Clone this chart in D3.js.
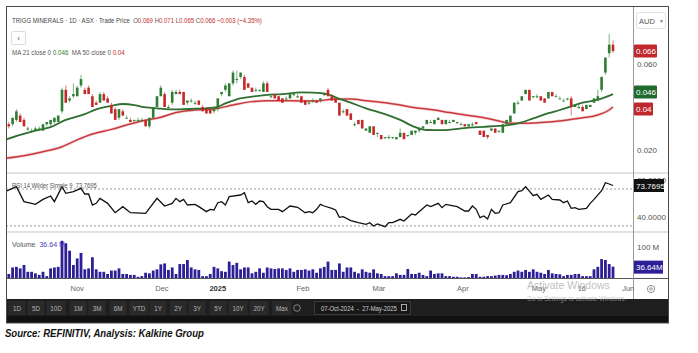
<!DOCTYPE html>
<html>
<head>
<meta charset="utf-8">
<script src="https://cdn.jsdelivr.net/npm/d3@7"></script>
<style>
  body { margin: 0; background: #fff; }
  svg { display: block; font-family: "Liberation Sans", Arial, sans-serif; }
  text { white-space: pre; }
</style>
</head>
<body>
<svg id="chart" width="698" height="353"></svg>
<script>
// ---- data (prices in thousandths of AUD, volume in millions) ----
const candles = [
  [30,31,29,31],[32,33,30,31],[32,35,31,35],[34,39,33,38],[36,37,33,33],[34,35,31,31],[30,31,29,30],[29,30,28,29],[29,31,29,30],[30,31,29,30],
  [29,32,29,32],[32,33,31,33],[32,34,31,34],[33,35,32,35],[33,36,33,36],[38,49,37,48],[48,50,42,42],[43,45,42,44],[45,51,44,46],[45,50,45,49],
  [50,55,49,53],[48,49,46,46],[49,50,46,46],[45,46,40,40],[42,43,41,41],[42,47,42,46],[46,47,43,43],[44,45,42,42],[41,42,37,37],[39,40,34,34],
  [35,39,34,39],[38,39,36,36],[35,36,35,35],[34,35,33,33],[34,34,33,34],[34,35,33,34],[34,35,33,34],[34,34,31,31],[31,35,30,35],[35,40,35,40],
  [40,45,40,45],[45,50,45,49],[46,47,40,40],[40,41,39,40],[42,48,41,47],[46,48,46,47],[47,48,46,46],[47,47,41,41],[42,43,41,43],[43,44,42,43],
  [42,43,41,42],[43,43,41,41],[40,41,38,38],[39,40,37,37],[39,39,37,37],[38,39,37,39],[39,44,38,44],[46,47,45,47],[48,51,47,50],[45,51,45,51],
  [51,57,50,56],[53,57,51,53],[54,56,53,56],[54,55,48,48],[51,51,49,49],[49,49,47,47],[48,49,47,48],[48,48,47,48],[47,52,47,51],[51,52,47,47],
  [45,46,44,45],[46,46,44,44],[45,45,43,43],[44,44,42,42],[44,45,43,44],[44,46,44,46],[46,47,45,46],[45,46,44,45],[45,45,42,42],[43,43,41,41],
  [42,43,41,42],[43,44,42,43],[43,43,42,42],[43,44,42,44],[46,47,45,46],[48,49,45,45],[45,46,43,43],[44,44,42,42],[42,42,36,36],[38,39,37,38],
  [39,39,36,36],[37,37,34,34],[32,33,31,32],[34,34,32,32],[34,34,30,30],[29,30,29,30],[28,31,28,31],[31,31,27,27],[28,28,26,28],[27,27,25,25],
  [26,26,25,26],[26,27,25,26],[26,26,25,26],[25,26,25,26],[26,30,26,28],[28,28,25,25],[27,27,26,27],[27,29,27,29],[28,29,27,29],[29,30,28,30],
  [30,31,30,31],[32,34,32,34],[33,34,33,33],[32,34,32,34],[34,35,34,35],[34,34,32,32],[32,34,32,34],[33,34,33,33],[33,34,33,34],[33,33,32,33],
  [32,33,32,32],[32,32,31,31],[31,32,31,32],[32,33,31,32],[33,33,32,32],[29,29,27,27],[29,29,26,26],[27,27,25,26],[29,30,29,30],[30,30,28,28],
  [29,29,28,29],[28,32,28,32],[32,34,32,34],[33,36,33,36],[37,42,37,42],[42,43,41,42],[43,45,43,45],[46,48,46,48],[48,48,43,43],[45,45,44,45],
  [45,46,44,45],[45,45,43,43],[44,44,42,42],[44,47,44,47],[47,47,45,45],[45,46,45,45],[44,45,44,44],[43,44,43,43],[44,44,43,44],[44,45,36,40],
  [40,41,40,41],[40,41,39,40],[40,41,38,38],[39,41,39,41],[40,41,40,41],[42,44,42,44],[43,48,43,45],[48,54,47,54],[56,63,55,63],[65,74,63,69],
  [69,71,65,66]
];

const volumes = [
  12,13,34,36,31,42,20,20,15,10, 20,6,31,34,36,120,112,88,42,63,
  81,28,31,67,28,20,20,13,24,24, 31,13,13,10,10,4,6,17,15,24,
  28,44,47,26,34,13,45,45,58,34, 28,26,6,6,13,36,31,22,20,53,
  42,49,28,34,34,15,20,31,17,34, 31,29,31,31,26,31,20,26,26,28,
  24,28,17,31,36,53,26,26,47,20, 34,
  34,20,15,28,20,17,28,15,13,6, 6,6,15,10,10,29,13,13,17,10,
  6,24,13,15,15,6,6,4,4,2, 2,3,13,13,4,4,6,6,8,10,
  10,9,13,20,24,20,26,20,28,20, 17,13,26,15,13,12,6,10,10,13,
  13,6,6,6,28,36,61,58,45,36.64
];

// [trading day, value]
const ma21 = [
  [0,.0247],[4,.0270],[8,.0290],[12,.0306],[16,.0340],[21,.0367],[24,.0389],[28,.0405],[31,.0414],[34,.0409],
  [36,.0401],[40,.0394],[43,.0389],[46,.0389],[50,.0392],[53,.0394],[56,.0401],[58,.0417],[61,.0436],[65,.0448],
  [69,.0456],[73,.0460],[78,.0468],[81,.0467],[85,.0459],[87,.0445],[91,.0420],[95,.0394],[100,.0367],[104,.0340],
  [108,.0306],[111,.0293],[115,.0292],[122,.0304],[126,.0308],[130,.0312],[132,.0315],[135,.0324],[139,.0347],[143,.0371],
  [146,.0386],[148,.0397],[152,.0420],[156,.0434],[160,.0460]
];
const ma50 = [
  [0,.0161],[6,.0177],[10,.0192],[15,.0215],[19,.0247],[23,.0274],[28,.0296],[32,.0316],[36,.0335],[41,.0352],
  [45,.0374],[50,.0386],[55,.0391],[60,.0409],[65,.0425],[69,.0429],[73,.0429],[78,.0428],[82,.0428],[86,.0436],
  [91,.0437],[95,.0429],[100,.0420],[104,.0409],[108,.0397],[113,.0386],[117,.0374],[122,.0361],[126,.0350],[130,.0335],
  [133,.0324],[136,.0324],[143,.0330],[148,.0340],[152,.0350],[156,.0363],[159,.0386],[160,.0400]
];
const rsi = [
  [0,67],[3,72.5],[5,56.3],[7,54.5],[8,53.4],[10,58.8],[12,62.4],[13,56.3],[15,72.5],[16,65.3],
  [18,67.1],[20,70.7],[21,64.6],[22,64.6],[23,52.7],[24,54.5],[25,59.9],[27,54.5],[29,44.4],[31,50.9],
  [33,44.4],[37,43.7],[40,59.9],[42,51.6],[44,54.5],[45,59.9],[46,56.3],[47,58.8],[48,52.7],[50,53.4],
  [51,50.9],[53,45.5],[54,48],[55,47.3],[56,55.2],[57,56.3],[58,52.7],[59,61.7],[62,63.5],[63,66],
  [64,55.2],[65,57],[66,53.4],[67,57],[68,56.3],[69,50.9],[70,48],[72,48],[73,45.5],[75,51.6],
  [77,50.2],[79,44.4],[80,45.5],[81,44.4],[82,48],[83,53.4],[84,51.6],[86,49.1],[87,47.3],[88,39.4],
  [89,40.1],[91,35.8],[93,33.6],[95,31.8],[96,33.6],[97,30],[98,32.2],[100,29.3],[101,33.6],[102,33.6],
  [104,37.2],[105,35.4],[107,43],[108,41.9],[111,52.7],[112,50.9],[114,54.5],[115,49.8],[116,53.4],[119,50.9],
  [121,46.2],[122,46.2],[123,51.6],[124,48],[125,39],[126,40.8],[127,37.6],[128,48],[129,43.7],[130,44.4],
  [131,52.7],[133,55.2],[135,67.1],[136,68.2],[137,72.5],[139,62.8],[140,64.2],[141,58.8],[143,63.5],[144,58.8],
  [146,58.1],[147,55.2],[148,57],[149,49.1],[150,49.8],[151,48],[153,49.1],[154,54.5],[155,58.8],[157,68.2],
  [158,76.8],[159,75.4],[160,73.7695]
];

const dateTicks = [
  { day: 19, label: "Nov" }, { day: 41.3, label: "Dec" }, { day: 56, label: "2025", bold: true },
  { day: 78.4, label: "Feb" }, { day: 98.4, label: "Mar" }, { day: 120.5, label: "Apr" },
  { day: 140.5, label: "May" }, { day: 151.8, label: "16" }, { day: 164, label: "Jun" }
];
const priceTicks = [0.02, 0.04, 0.06];
const rsiTicks = [40, 80];
const volTicks = [100];
const rangeButtons = ["1D","5D","10D","1M","3M","6M","YTD","1Y","2Y","3Y","5Y","10Y","20Y","Max"];
const buttonCentres = [17,36,56,78,97,118,139,158,178,197,218,238,259,282];

const ma21Last = 0.046, ma50Last = 0.04, rsiLast = 73.7695;

// ---- layout ----
const L = 6, R = 633, FR = 668;
const mainTop = 7, mainBot = 173, rsiBot = 232, volBot = 278, axisBot = 299, barBot = 323;
const UP = "#2e7d32", DOWN = "#c62828", VOL = "#2d1f96";

const svg = d3.select("#chart");
const x = d3.scaleLinear().domain([0, 160]).range([5, 613]);
const yP = d3.scaleLinear().domain([0.0093, 0.08698]).range([mainBot, 6]);
const yR = d3.scaleLinear().domain([23.5, 87.3]).range([rsiBot, mainBot]);
const yV = d3.scaleLinear().domain([0, 100]).range([volBot, 247]);

// squeeze a text element horizontally to a target width (condensed UI font look)
function squeeze(t, tx, ty, width) {
  const w = t.node().getComputedTextLength();
  t.attr("transform", `translate(${tx},${ty}) scale(${width / w},1)`);
}

const defs = svg.append("defs");
[["clipMain", mainTop, mainBot], ["clipRsi", mainBot, rsiBot], ["clipVol", rsiBot, volBot]].forEach(([id, t, b]) => {
  defs.append("clipPath").attr("id", id).append("rect")
    .attr("x", L).attr("y", t).attr("width", R - L).attr("height", b - t);
});

// ---- main panel: candles + moving averages ----
const gMain = svg.append("g").attr("clip-path", "url(#clipMain)");
const line = d3.line().x(d => x(d[0])).y(d => yP(d[1])).curve(d3.curveMonotoneX);

gMain.append("path").datum(ma50).attr("d", line)
  .attr("fill", "none").attr("stroke", "#f6d6d6").attr("stroke-width", 3);
gMain.append("path").datum(ma50).attr("d", line)
  .attr("fill", "none").attr("stroke", "#c9383d").attr("stroke-width", 1.5);
gMain.append("path").datum(ma21).attr("d", line)
  .attr("fill", "none").attr("stroke", "#2f6f2f").attr("stroke-width", 1.8);

const cg = gMain.selectAll(".candle").data(candles).enter().append("g").attr("class", "candle");
const col = d => (d[3] >= d[0] ? UP : DOWN);
cg.append("line")
  .attr("x1", (d, i) => x(i)).attr("x2", (d, i) => x(i))
  .attr("y1", d => yP(d[1] / 1000)).attr("y2", d => yP(d[2] / 1000))
  .attr("stroke", col).attr("stroke-opacity", 0.6).attr("stroke-width", 1);
cg.append("rect")
  .attr("x", (d, i) => x(i) - 1.3).attr("width", 2.6)
  .attr("y", d => yP(Math.max(d[0], d[3]) / 1000))
  .attr("height", d => Math.max(1, yP(Math.min(d[0], d[3]) / 1000) - yP(Math.max(d[0], d[3]) / 1000)))
  .attr("fill", col);

// ---- RSI panel ----
const gRsi = svg.append("g").attr("clip-path", "url(#clipRsi)");
[70, 30].forEach(v => {
  gRsi.append("line").attr("x1", L).attr("x2", R).attr("y1", yR(v)).attr("y2", yR(v))
    .attr("stroke", "#9a9a9a").attr("stroke-dasharray", "2,2");
});
gRsi.append("path").datum(rsi)
  .attr("d", d3.line().x(d => x(d[0])).y(d => yR(d[1])))
  .attr("fill", "none").attr("stroke", "#111").attr("stroke-width", 1.3);

// ---- volume panel ----
const gVol = svg.append("g").attr("clip-path", "url(#clipVol)");
gVol.selectAll("rect").data(volumes).enter().append("rect")
  .attr("x", (d, i) => x(i) - 1.4).attr("width", 2.8)
  .attr("y", d => yV(d)).attr("height", d => volBot - yV(d))
  .attr("fill", VOL);

// ---- frame, separators ----
[mainBot, rsiBot].forEach(y => {
  svg.append("line").attr("x1", L).attr("x2", FR).attr("y1", y).attr("y2", y)
    .attr("stroke", "#e2e2e2").attr("stroke-width", 2);
});
svg.append("line").attr("x1", L).attr("x2", FR).attr("y1", volBot + 0.5).attr("y2", volBot + 0.5)
  .attr("stroke", "#555");
svg.append("line").attr("x1", R + 0.5).attr("x2", R + 0.5).attr("y1", mainTop).attr("y2", axisBot)
  .attr("stroke", "#9a9a9a");

// ---- right axes ----
const last = candles[candles.length - 1];
const prev = candles[candles.length - 2];
let y21 = yP(ma21Last), y50 = yP(ma50Last);
if (y50 - y21 < 17) { const m = (y21 + y50) / 2; y21 = m - 8.5; y50 = m + 8.5; }
const tagYs = [yP(last[3] / 1000), y21, y50];

const axisText = (y, label) => svg.append("text").attr("x", 637).attr("y", y + 3)
  .attr("font-size", 8).attr("fill", "#555").text(label);
// price ticks hidden behind a value tag are not drawn
priceTicks.filter(v => tagYs.every(t => Math.abs(t - yP(v)) > 8))
  .forEach(v => axisText(yP(v), d3.format(".3f")(v)));
rsiTicks.forEach(v => axisText(yR(v), d3.format(".4f")(v)));
volTicks.forEach(v => axisText(yV(v), v + " M"));

function tag(yc, label, fill, w) {
  svg.append("rect").attr("x", 634).attr("y", yc - 6.5).attr("width", w).attr("height", 13)
    .attr("rx", 1).attr("fill", fill);
  svg.append("text").attr("x", 636).attr("y", yc + 3).attr("font-size", 8)
    .attr("fill", "#fff").text(label);
}
tag(tagYs[0], d3.format(".3f")(last[3] / 1000), "#c0282d", 23);
tag(tagYs[1], String(ma21Last), "#1f6a2c", 23);
tag(tagYs[2], String(ma50Last), "#c0282d", 19);
svg.append("rect").attr("x", 634).attr("y", yR(rsiLast) - 6.5).attr("width", 30).attr("height", 13).attr("fill", "#111");
svg.append("text").attr("x", 636).attr("y", yR(rsiLast) + 3).attr("font-size", 8).attr("fill", "#fff").text(rsiLast.toFixed(4));
svg.append("rect").attr("x", 634).attr("y", yV(volumes[volumes.length - 1]) - 6).attr("width", 29).attr("height", 13).attr("fill", VOL);
svg.append("text").attr("x", 636).attr("y", yV(volumes[volumes.length - 1]) + 3.5).attr("font-size", 8).attr("fill", "#fff")
  .text(volumes[volumes.length - 1] + "M");

// AUD selector
svg.append("rect").attr("x", 636.5).attr("y", 12.5).attr("width", 29).attr("height", 16).attr("rx", 2)
  .attr("fill", "#fff").attr("stroke", "#e0e0e0");
svg.append("text").attr("x", 639).attr("y", 23.5).attr("font-size", 7.5).attr("fill", "#555").text("AUD");
svg.append("text").attr("x", 659).attr("y", 23).attr("font-size", 5).attr("fill", "#777").text("▼");

// ---- date axis ----
dateTicks.forEach(t => {
  svg.append("text").attr("x", x(t.day)).attr("y", 291).attr("text-anchor", "middle")
    .attr("font-size", 7.5).attr("font-weight", t.bold ? "bold" : "normal")
    .attr("fill", t.bold ? "#333" : "#666").text(t.label);
});
svg.append("circle").attr("cx", 651).attr("cy", 289).attr("r", 3.6).attr("fill", "none").attr("stroke", "#777").attr("stroke-width", 0.8);
svg.append("circle").attr("cx", 651).attr("cy", 289).attr("r", 1.3).attr("fill", "none").attr("stroke", "#777").attr("stroke-width", 0.7);

// ---- legends ----
const fmt = v => d3.format(".3f")(v / 1000);
const chg = last[3] - prev[3];
const head = svg.append("text").attr("font-size", 8);
[
  ["TRIGG MINERALS · 1D · ASX · Trade Price  ", "#444"],
  ["O", "#555"], [fmt(last[0]) + " ", "#c62828"],
  ["H", "#555"], [fmt(last[1]) + " ", "#c62828"],
  ["L", "#555"], [fmt(last[2]) + " ", "#c62828"],
  ["C", "#555"], [fmt(last[3]) + " ", "#c62828"],
  [fmt(chg) + " (" + d3.format("+.2f")(chg / prev[3] * 100).replace("-", "−") + "%)", "#c62828"]
].forEach(([s, c]) => head.append("tspan").attr("fill", c).text(s));
squeeze(head, 12, 22.5, 250);

svg.append("rect").attr("x", 11.5).attr("y", 31.5).attr("width", 14).attr("height", 13).attr("rx", 1.5)
  .attr("fill", "#fff").attr("stroke", "#dcdcdc");
svg.append("text").attr("x", 18.5).attr("y", 41).attr("text-anchor", "middle").attr("font-size", 8).attr("fill", "#444").text("‹");

const maLeg = svg.append("text").attr("font-size", 8);
[["MA 21 close 0 ", "#555"], [String(ma21Last), "#2e7d32"], ["  MA 50 close 0 ", "#555"], [String(ma50Last), "#c62828"]]
  .forEach(([s, c]) => maLeg.append("tspan").attr("fill", c).text(s));
squeeze(maLeg, 12, 55, 113);

const rsiLeg = svg.append("text").attr("font-size", 8).attr("fill", "#555").text("RSI 14 Wilder Simple 9  " + rsiLast);
squeeze(rsiLeg, 12, 187.5, 85);

const volLeg = svg.append("text").attr("font-size", 8);
volLeg.append("tspan").attr("fill", "#555").text("Volume  ");
volLeg.append("tspan").attr("fill", "#4b3fc0").text(volumes[volumes.length - 1] + " M");
squeeze(volLeg, 12, 247, 53);

// ---- toolbar ----
svg.append("rect").attr("x", L).attr("y", axisBot).attr("width", 663).attr("height", barBot - axisBot).attr("fill", "#1e1e1e");
svg.append("rect").attr("x", L).attr("y", 316).attr("width", 663).attr("height", barBot - 316).attr("fill", "#111");
rangeButtons.forEach((b, i) => {
  const w = b.length > 2 ? 19 : 17;
  svg.append("rect").attr("x", buttonCentres[i] - w / 2).attr("y", 301).attr("width", w).attr("height", 14)
    .attr("fill", "#2a2a2a");
  svg.append("text").attr("x", buttonCentres[i]).attr("y", 310.5).attr("text-anchor", "middle")
    .attr("font-size", 6.3).attr("fill", "#b5b5b5").text(b);
});
svg.append("circle").attr("cx", 297).attr("cy", 308).attr("r", 3.3).attr("fill", "none").attr("stroke", "#999").attr("stroke-width", 0.8);
svg.append("rect").attr("x", 314.5).attr("y", 301.5).attr("width", 96).attr("height", 13).attr("fill", "#181818").attr("stroke", "#3a3a3a");
const dr = svg.append("text").attr("font-size", 6.5).attr("fill", "#cfcfcf").text("07-Oct-2024  -  27-May-2025");
squeeze(dr, 321, 310.5, 76);
svg.append("rect").attr("x", 401.5).attr("y", 304.5).attr("width", 5).attr("height", 6).attr("fill", "none").attr("stroke", "#ccc").attr("stroke-width", 0.8);

// outer frame
svg.append("rect").attr("x", L + 0.5).attr("y", 6.5).attr("width", FR - L).attr("height", barBot - 6.5)
  .attr("fill", "none").attr("stroke", "#4a4a4a");

// ---- watermark + source ----
svg.append("text").attr("x", 527).attr("y", 289).attr("font-size", 10.5).attr("fill", "#a8a8a8").attr("fill-opacity", 0.75).text("Activate Windows");
svg.append("text").attr("x", 527).attr("y", 301).attr("font-size", 6.3).attr("fill", "#b0b0b0").attr("fill-opacity", 0.7).text("Go to Settings to activate Windows.");

const src = svg.append("text").attr("font-size", 10.5).attr("font-weight", "bold").attr("font-style", "italic")
  .attr("fill", "#111").text("Source: REFINITIV, Analysis: Kalkine Group");
squeeze(src, 5, 337, 199);
</script>
</body>
</html>
